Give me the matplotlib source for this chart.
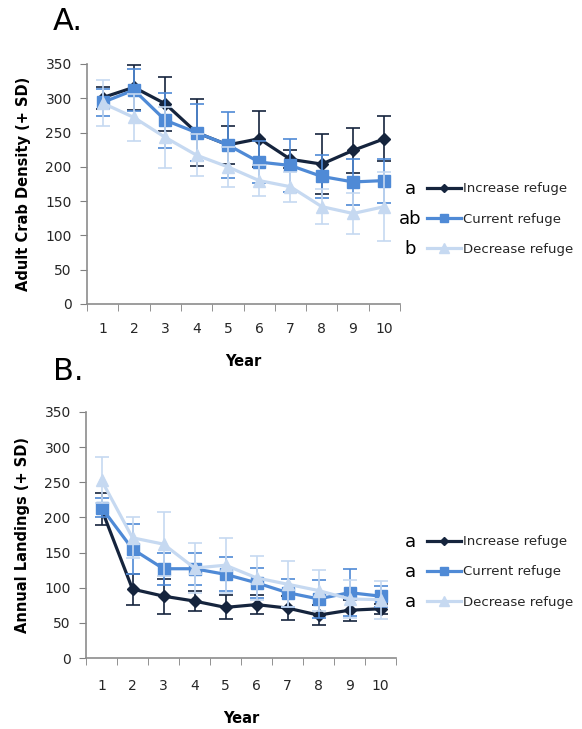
import matplotlib.pyplot as plt
from matplotlib.lines import Line2D
import numpy as np

# Data
years = np.arange(1, 11)
series_names = ['Increase refuge', 'Current refuge', 'Decrease refuge']

density_increase = [301, 316, 292, 250, 232, 241, 211, 204, 224, 241]
density_increase_sd = [16, 33, 39, 49, 28, 41, 13, 44, 33, 33]
density_current = [294, 312, 268, 250, 232, 207, 202, 186, 178, 180]
density_current_sd = [20, 30, 40, 41, 48, 30, 38, 31, 33, 32]
density_decrease = [293, 272, 243, 217, 200, 180, 171, 142, 132, 142]
density_decrease_sd = [34, 34, 45, 31, 29, 23, 22, 25, 30, 50]
density_letters = ['a', 'ab', 'b']

landings_increase = [212, 98, 88, 81, 72, 76, 71, 61, 68, 70]
landings_increase_sd = [23, 22, 25, 14, 17, 13, 17, 14, 15, 7]
landings_current = [214, 155, 127, 127, 119, 107, 93, 84, 93, 88]
landings_current_sd = [14, 36, 23, 23, 24, 21, 20, 27, 33, 15]
landings_decrease = [253, 171, 162, 128, 132, 114, 105, 96, 84, 83]
landings_decrease_sd = [33, 29, 46, 35, 39, 31, 33, 29, 27, 27]
landings_letters = ['a', 'a', 'a']

colors = ['#15243d', '#4f8ad6', '#c6d9f1']
markers = ['D', 's', '^']
msizes = [6, 8, 9]

W, H = 582, 729
fig = plt.figure(figsize=(W / 100, H / 100), dpi=100)


def px_axes(l, t, r, b):
    return fig.add_axes([l / W, 1 - b / H, (r - l) / W, (b - t) / H])


def draw_panel(ax, means, sds, ylabel, tickpad):
    for i in range(3):
        ax.errorbar(years, means[i], yerr=sds[i], color=colors[i],
                    marker=markers[i], markersize=msizes[i], lw=2.3,
                    elinewidth=1.2, capsize=5, capthick=1.2, zorder=2 + i)
    ax.set_xlim(0.5, 10.5)
    ax.set_ylim(0, 350)
    ax.set_yticks(range(0, 351, 50))
    ax.set_xticks(years)
    ax.set_xticks(np.arange(0.5, 11, 1), minor=True)
    ax.tick_params(axis='x', which='major', length=0, pad=tickpad)
    ax.tick_params(axis='x', which='minor', length=5, color='#808080')
    ax.tick_params(axis='y', length=5, color='#808080', pad=6)
    ax.tick_params(labelsize=10, labelcolor='#262626')
    for s in ['top', 'right']:
        ax.spines[s].set_visible(False)
    for s in ['left', 'bottom']:
        ax.spines[s].set_color('#8c8c8c')
        ax.spines[s].set_linewidth(1.2)
    ax.set_ylabel(ylabel, fontsize=10.5, fontweight='bold', labelpad=10)
    ax.set_xlabel('Year', fontsize=10.5, fontweight='bold', labelpad=13)


def draw_legend(ax, letters, yc):
    handles = [Line2D([], [], color=colors[i], marker=markers[i], lw=2.3,
                      markersize=msizes[i] * 0.75) for i in range(3)]
    ax.legend(handles, series_names, loc='center left',
              bbox_to_anchor=(427 / W, 1 - yc / H), bbox_transform=fig.transFigure,
              frameon=False, fontsize=9.5, handlelength=2.6, handletextpad=0.1,
              labelspacing=1.3, borderpad=0, borderaxespad=0,
              labelcolor='#262626')
    for i, letter in enumerate(letters):
        fig.text(410 / W, 1 - (yc - 30 + 30 * i) / H, letter, fontsize=13,
                 ha='center', va='center')


axA = px_axes(87, 64, 400, 304)
draw_panel(axA, [density_increase, density_current, density_decrease],
           [density_increase_sd, density_current_sd, density_decrease_sd],
           'Adult Crab Density (+ SD)', 13)
draw_legend(axA, density_letters, 219)

axB = px_axes(86, 412, 396, 658)
draw_panel(axB, [landings_increase, landings_current, landings_decrease],
           [landings_increase_sd, landings_current_sd, landings_decrease_sd],
           'Annual Landings (+ SD)', 15)
draw_legend(axB, landings_letters, 572)

fig.text(53 / W, 1 - 22 / H, 'A.', fontsize=22, va='center')
fig.text(53 / W, 1 - 372 / H, 'B.', fontsize=22, va='center')

fig.savefig('out.png', dpi=100)
